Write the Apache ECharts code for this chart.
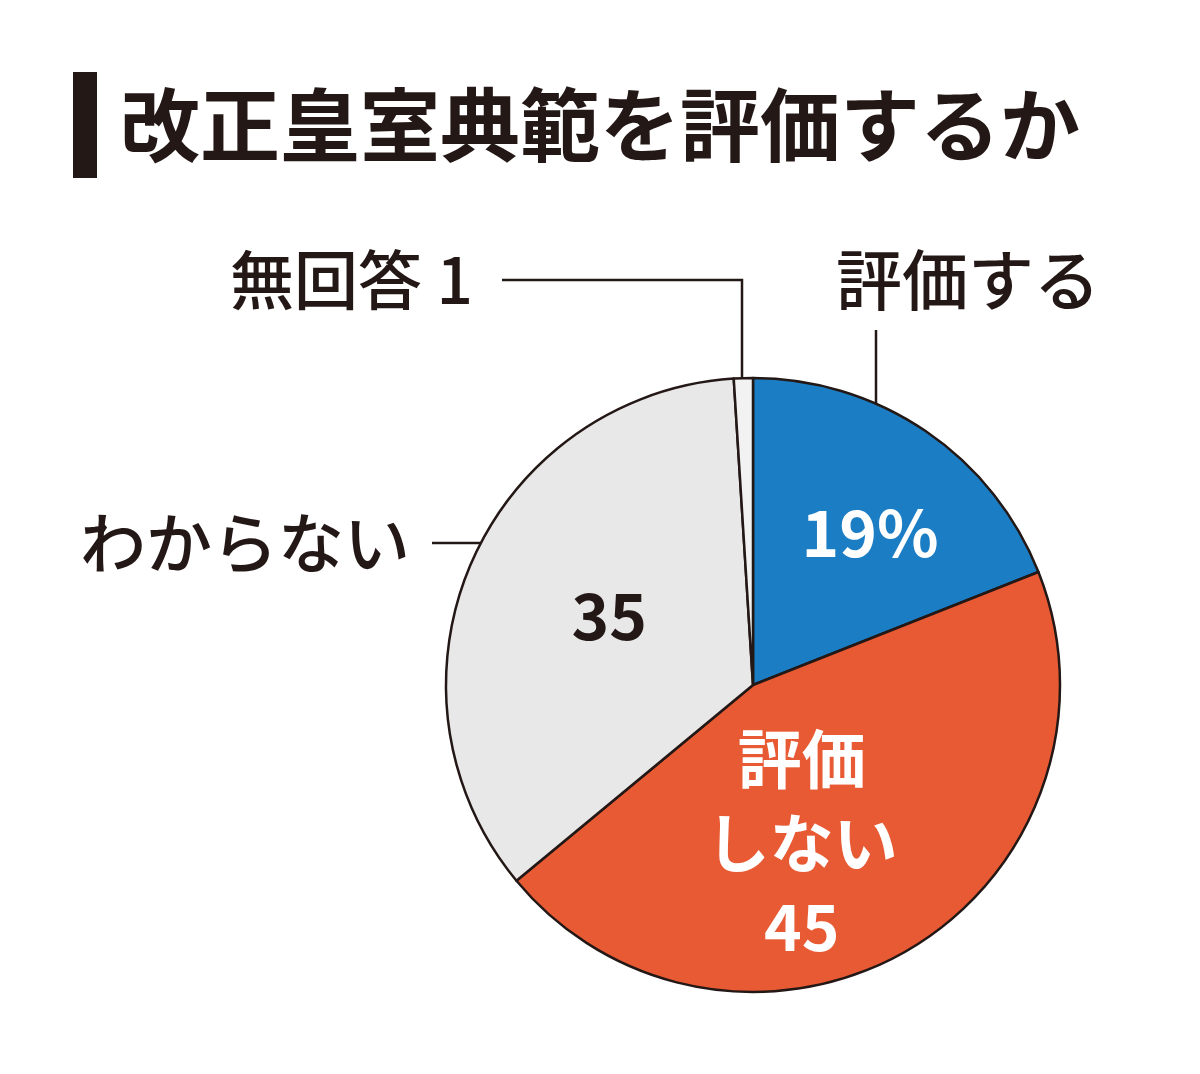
<!DOCTYPE html>
<html><head><meta charset="utf-8">
<script src="https://cdn.jsdelivr.net/npm/echarts@6/dist/echarts.min.js"></script>
<style>html,body{margin:0;background:#fff}#c{width:1200px;height:1074px}</style></head>
<body><div id="c"></div>
<script>
const categories = ['評価する', '評価しない', 'わからない', '無回答'];
const values = [19, 45, 35, 1];
const insideLabels = ['19%', '評価\nしない\n45', '35', ''];
const colors = ['#1b7dc3', '#e85a33', '#e8e8e8', '#f2f2f2'];
const labelColors = ['#fff', '#fff', '#231815', '#231815'];
const offsets = [[29, -23], [-31, 23], [0, -7], [0, 0]];
const font = '"Noto Sans CJK JP", sans-serif';
const chart = echarts.init(document.getElementById('c'));
chart.setOption({
  animation: false,
  graphic: [
    {type: 'rect', shape: {x: 73, y: 72, width: 24, height: 106}, style: {fill: '#231815'}},
    {type: 'text', x: 120, y: 125, style: {text: '改正皇室典範を評価するか', font: 'bold 80px ' + font, fill: '#231815', verticalAlign: 'middle'}},
    {type: 'text', x: 836, y: 280, style: {text: '評価する', font: '500 66px ' + font, fill: '#231815', verticalAlign: 'middle'}},
    {type: 'polyline', shape: {points: [[876, 330], [876, 425]]}, style: {stroke: '#231815', lineWidth: 2.5}},
    {type: 'text', x: 230, y: 280, style: {text: '無回答 1', font: '500 64px ' + font, fill: '#231815', verticalAlign: 'middle'}},
    {type: 'polyline', shape: {points: [[502, 280], [742, 280], [742, 385]]}, style: {stroke: '#231815', lineWidth: 2.5}},
    {type: 'text', x: 80, y: 543, style: {text: 'わからない', font: '500 66px ' + font, fill: '#231815', verticalAlign: 'middle'}},
    {type: 'polyline', shape: {points: [[432, 543], [500, 543]]}, style: {stroke: '#231815', lineWidth: 2.5}}
  ],
  series: [{
    type: 'pie',
    center: [753, 685],
    radius: [0, 307],
    startAngle: 90,
    clockwise: true,
    silent: true,
    itemStyle: {borderColor: '#231815', borderWidth: 2.5},
    labelLine: {show: false},
    data: categories.map((c, i) => ({
      name: c, value: values[i],
      itemStyle: {color: colors[i]},
      label: {show: true, position: 'inside', formatter: insideLabels[i], color: labelColors[i],
        fontFamily: font, fontWeight: 'bold', fontSize: 64, lineHeight: 84, offset: offsets[i]}
    }))
  }]
});
</script></body></html>
